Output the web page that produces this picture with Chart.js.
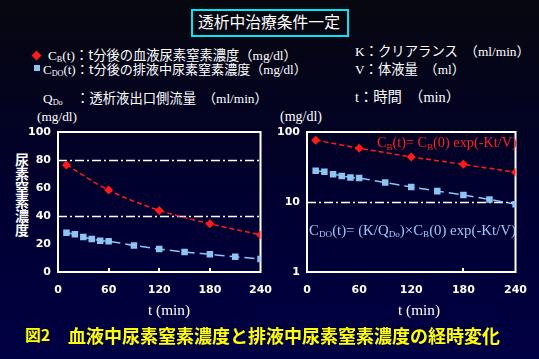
<!DOCTYPE html>
<html><head><meta charset="utf-8">
<script src="https://cdn.jsdelivr.net/npm/chart.js@4/dist/chart.umd.min.js"></script>
<style>
html,body{margin:0;padding:0;}
body{width:539px;height:359px;overflow:hidden;position:relative;background:linear-gradient(#07070e 0%,#000030 55%,#000044 100%);font-family:"Liberation Serif","Noto Sans CJK JP",serif;color:#fff;}
.abs{position:absolute;white-space:nowrap;line-height:1;}
.fit{position:absolute;white-space:nowrap;line-height:1;font-size:14px;transform:translateY(-50%);}
sub{font-size:0.62em;vertical-align:-0.3em;line-height:0;}
canvas{position:absolute;}
#title{left:191px;top:9px;width:154px;height:24px;border:2px solid #00e8f0;position:absolute;}
.jp{font-family:"Noto Sans CJK JP";}
</style></head><body>
<div id="title"></div>
<div class="fit jp" data-x="198" data-y="22" data-w="142">透析中治療条件一定</div>

<div class="abs" style="left:33px;top:51.5px;width:7px;height:7px;background:#ff1a1a;transform:rotate(45deg);"></div>
<div class="abs" style="left:34px;top:65px;width:6px;height:6px;background:#8cc4f2;"></div>
<div class="fit" data-x="48" data-y="55" data-w="249">C<sub>B</sub>(t)<span class="jp">：t分後の血液尿素窒素濃度</span>（mg/dl）</div>
<div class="fit" data-x="43" data-y="69" data-w="264">C<sub>DO</sub>(t)<span class="jp">：t分後の排液中尿素窒素濃度</span>（mg/dl）</div>
<div class="fit" data-x="43" data-y="98" data-w="225">Q<sub>Do</sub>　<span class="jp">：透析液出口側流量</span>　（ml/min）</div>
<div class="fit" data-x="355" data-y="51" data-w="175">K<span class="jp">：クリアランス</span>　（ml/min）</div>
<div class="fit" data-x="355" data-y="69" data-w="110">V<span class="jp">：体液量</span>　（ml）</div>
<div class="fit" data-x="355" data-y="97" data-w="105">t<span class="jp">：時間</span>　（min）</div>

<div class="fit" data-x="37" data-y="117" data-w="40">(mg/dl)</div>
<div class="fit" data-x="280" data-y="117" data-w="42">(mg/dl)</div>
<div class="abs jp" style="left:15px;top:153px;font-size:14px;font-weight:bold;writing-mode:vertical-rl;line-height:14px;">尿素窒素濃度</div>

<canvas id="c1" width="284" height="200" style="left:0;top:105px;"></canvas>
<canvas id="c2" width="269" height="200" style="left:270px;top:105px;"></canvas>

<div class="fit" data-x="377" data-y="142" data-w="140" style="color:#ff2020;">C<sub>B</sub>(t)= C<sub>B</sub>(0) exp(-Kt/V)</div>
<div class="fit" data-x="309" data-y="230" data-w="207" style="color:#9ccbf7;">C<sub>DO</sub>(t)= (K/Q<sub>Do</sub>)×C<sub>B</sub>(0) exp(-Kt/V)</div>

<div class="fit" data-x="148" data-y="310" data-w="42">t (min)</div>
<div class="fit" data-x="398" data-y="310" data-w="42">t (min)</div>

<div class="fit jp" data-x="25" data-y="335" data-w="25" style="font-weight:bold;color:#ffff00;">図2</div>
<div class="fit jp" data-x="68" data-y="335" data-w="432" style="font-weight:bold;color:#ffff00;">血液中尿素窒素濃度と排液中尿素窒素濃度の経時変化</div>

<script>
// ---- data ----
const bloodTimes = [10, 60, 120, 180, 240];
const bloodBUN = [76.5, 58.5, 44, 34.5, 26.5];           // C_B(t) mg/dl
const drainTimes = [10, 20, 30, 40, 50, 60, 90, 120, 150, 180, 210, 240];
const drainBUN = [28, 27, 25, 23.6, 22.4, 22, 19, 16.4, 14.3, 12.6, 10.9, 9.3]; // C_DO(t) mg/dl
const xTickVals = [0, 60, 120, 180, 240];
const linTickVals = [0, 20, 40, 60, 80, 100];
const logTickVals = [1, 10, 100];

// place text by measured extents
document.querySelectorAll('.fit').forEach(el => {
  el.style.left = el.dataset.x + 'px';
  el.style.top = el.dataset.y + 'px';
  const w = el.getBoundingClientRect().width;
  const fs = 14 * (+el.dataset.w) / w;
  el.style.fontSize = fs.toFixed(2) + 'px';
});

const tickFont = {family: 'DejaVu Sans', size: 11, weight: 'bold'};

function framePlugin(gridVals, innerTicks) {
  return {
    id: 'frame',
    beforeDatasetsDraw(chart) {
      const {ctx, chartArea: a, scales: {x, y}} = chart;
      ctx.save();
      ctx.strokeStyle = '#ffffff';
      ctx.lineWidth = 1.5;
      ctx.setLineDash([9, 3, 2, 3]);
      gridVals.forEach(v => {
        const py = Math.round(y.getPixelForValue(v)) + 0.5;
        ctx.beginPath(); ctx.moveTo(a.left, py); ctx.lineTo(a.right, py); ctx.stroke();
      });
      ctx.setLineDash([]);
      ctx.lineWidth = 2;
      ctx.strokeRect(a.left, a.top, a.right - a.left, a.bottom - a.top);
      innerTicks.forEach(v => {
        const px = Math.round(x.getPixelForValue(v));
        ctx.beginPath(); ctx.moveTo(px, a.bottom); ctx.lineTo(px, a.bottom - 4); ctx.stroke();
      });
      ctx.restore();
    }
  };
}

function makeChart(id, yType, yMin, yMax, yTicks, yWidth, rightPad, gridVals, innerTicks, curved) {
  return new Chart(document.getElementById(id), {
    type: 'line',
    data: {
      datasets: [
        {
          data: bloodTimes.map((t, i) => ({x: t, y: bloodBUN[i]})),
          borderColor: '#ff1a1a', backgroundColor: '#ff1a1a',
          borderWidth: 1.5, borderDash: [5, 3],
          pointStyle: 'rectRot', pointRadius: 4.5, pointBorderWidth: 0,
          cubicInterpolationMode: curved ? 'monotone' : 'default', tension: 0
        },
        {
          data: drainTimes.map((t, i) => ({x: t, y: drainBUN[i]})),
          borderColor: '#8cc4f2', backgroundColor: '#8cc4f2',
          borderWidth: 1.5, borderDash: [10, 5],
          pointStyle: 'rect', pointRadius: 4.6, pointBorderWidth: 0,
          cubicInterpolationMode: curved ? 'monotone' : 'default', tension: 0
        }
      ]
    },
    options: {
      responsive: false, animation: false, events: [],
      layout: {padding: {top: 27, right: rightPad, left: 0, bottom: 0}},
      plugins: {legend: {display: false}, tooltip: {enabled: false}},
      scales: {
        x: {
          type: 'linear', min: 0, max: 240,
          afterBuildTicks: s => { s.ticks = xTickVals.map(v => ({value: v})); },
          afterFit: s => { s.height = 33; },
          grid: {display: false, drawTicks: false},
          border: {display: false},
          ticks: {color: '#ffffff', font: tickFont, padding: 12, maxRotation: 0, autoSkip: false}
        },
        y: {
          type: yType, min: yMin, max: yMax,
          afterBuildTicks: s => { s.ticks = yTicks.map(v => ({value: v})); },
          afterFit: s => { s.width = yWidth; },
          grid: {display: false, drawTicks: false},
          border: {display: false},
          ticks: {color: '#ffffff', font: tickFont, padding: 7, autoSkip: false,
                  callback: v => String(v)}
        }
      }
    },
    plugins: [framePlugin(gridVals, innerTicks)]
  });
}

makeChart('c1', 'linear', 0, 100, linTickVals, 58, 15, [40, 80], [60, 120, 180], true);
makeChart('c2', 'logarithmic', 1, 100, logTickVals, 37, 17, [10], [180], false);
</script>
</body></html>
